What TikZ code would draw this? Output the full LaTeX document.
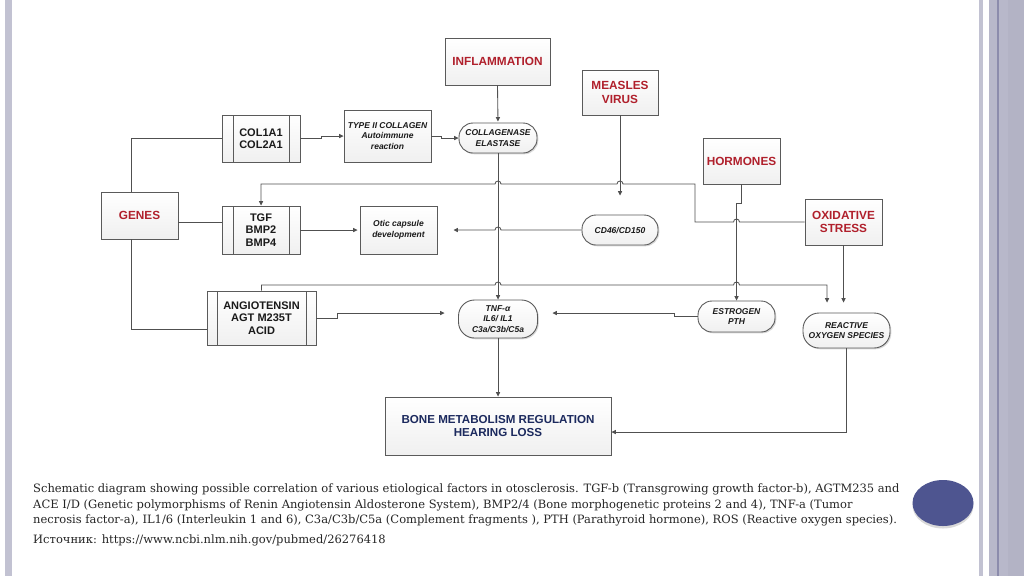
\documentclass[tikz,border=0pt]{standalone}
\usepackage{fontspec}
\newfontfamily\dsf{Liberation Sans}
\newfontfamily\capfont{DejaVu Serif}
\usetikzlibrary{arrows.meta,shadows,calc}
\definecolor{ln}{HTML}{505050}
\definecolor{bx}{HTML}{5A5A5A}
\definecolor{redt}{HTML}{B0202C}
\definecolor{navyt}{HTML}{1C2A5E}
\definecolor{txt}{HTML}{1A1A1A}
\definecolor{barl}{HTML}{C2C2D2}
\definecolor{barm}{HTML}{B8B8CA}
\definecolor{bard}{HTML}{8C8CAC}
\definecolor{barr}{HTML}{B3B3C5}
\definecolor{ovalc}{HTML}{4E5590}
\begin{document}
\begin{tikzpicture}[x=1pt,y=-1pt,
  base/.style={draw=bx, line width=0.9pt, top color=white, bottom color=black!6, align=center, inner sep=0pt, text=txt,
    drop shadow={shadow xshift=1.3pt, shadow yshift=-1.3pt, opacity=0.3}},
  redbox/.style={base, text=redt, font=\dsf\bfseries\fontsize{11.8}{13.6}\selectfont},
  genbox/.style={base, font=\dsf\bfseries\fontsize{11}{12.5}\selectfont},
  itbox/.style={base, font=\dsf\bfseries\itshape\fontsize{8.5}{10.6}\selectfont},
  stad/.style={base, rounded corners=14pt, font=\dsf\bfseries\itshape\fontsize{8.5}{10.6}\selectfont},
  proc/.style={genbox, path picture={
    \draw[bx, line width=0.8pt] ([xshift=#1]path picture bounding box.north west) -- ([xshift=#1]path picture bounding box.south west);
    \draw[bx, line width=0.8pt] ([xshift=-#1]path picture bounding box.north east) -- ([xshift=-#1]path picture bounding box.south east);}},
  conn/.style={draw=ln, line width=0.85pt},
  arr/.style={conn, -{Triangle[length=4.5pt,width=4.2pt]}},
  captxt/.style={anchor=base west, inner sep=0pt, text=black!85, font=\capfont\fontsize{11.5}{15}\selectfont}
]
\path[use as bounding box, fill=white] (0,0) rectangle (1024,576);
% slide decorations
\fill[barl] (5,0) rectangle (11.5,576);
\fill[barl] (979,0) rectangle (983,576);
\fill[barm] (989,0) rectangle (1024,576);
\fill[barr] (1008,0) rectangle (1024,576);
\fill[bard] (997,0) rectangle (999,576);
\fill[black, opacity=0.15] (943,505.5) ellipse [x radius=30.5, y radius=23];
\fill[ovalc] (943,503) ellipse [x radius=30.5, y radius=23];

% nodes
\node[redbox, minimum width=105, minimum height=47] (inflam) at (497.5,61.5) {INFLAMMATION};
\node[redbox, minimum width=76, minimum height=45] (measles) at (620,92.5) {MEASLES\\VIRUS};
\node[redbox, minimum width=77, minimum height=46] (horm) at (741.5,161) {HORMONES};
\node[redbox, minimum width=77, minimum height=46] (oxid) at (843.5,222) {OXIDATIVE\\STRESS};
\node[redbox, minimum width=77, minimum height=47] (genes) at (139.5,215.5) {GENES};
\node[proc=11pt, minimum width=78, minimum height=47] (col) at (261,138.5) {COL1A1\\COL2A1};
\node[itbox, minimum width=87, minimum height=52] (type2) at (387.5,136) {TYPE II COLLAGEN\\Autoimmune\\reaction};
\node[proc=11pt, minimum width=78, minimum height=48] (tgf) at (261,230) {TGF\\BMP2\\BMP4};
\node[itbox, minimum width=77, minimum height=48] (otic) at (398.5,230) {Otic capsule\\development};
\node[stad, minimum width=78, minimum height=30] (colla) at (498,138) {COLLAGENASE\\ELASTASE};
\node[stad, minimum width=76, minimum height=30] (cd46) at (620,230) {CD46/CD150};
\node[proc=10pt, minimum width=109, minimum height=54] (angio) at (261.5,318) {ANGIOTENSIN\\AGT M235T\\ACID};
\node[stad, minimum width=79, minimum height=38, rounded corners=16pt] (tnf) at (498,319) {TNF-α\\IL6/ IL1\\C3a/C3b/C5a};
\node[stad, minimum width=77, minimum height=31] (estr) at (736.5,316.5) {ESTROGEN\\PTH};
\node[stad, minimum width=87, minimum height=35, rounded corners=16pt] (ros) at (846.5,330.5) {REACTIVE\\OXYGEN SPECIES};
\node[base, minimum width=226, minimum height=58, text=navyt, font=\dsf\bfseries\fontsize{11.6}{13.6}\selectfont] (bone) at (498,426) {BONE METABOLISM REGULATION\\HEARING LOSS};

% connectors
\draw[conn] ([xshift=-8.5pt]genes.north) |- (col.west);
\draw[conn] ([yshift=-6.5pt]genes.east) -- ([yshift=-6.5pt]genes.east -| tgf.west);
\draw[conn] ([xshift=-8.5pt]genes.south) |- ([yshift=-11pt]angio.west);
\draw[arr] (col.east) -- ++(21,0) -- ++(0,-2.5) -- (type2.west);
\draw[arr] (type2.east) -- ++(10,0) -- ++(0,2) -- (colla.west);
\draw[arr, shorten >=1pt] (inflam.south) -- (colla.north);
\draw[arr] (colla.south) -- (tnf.north);
\draw[arr, shorten >=19pt] (measles.south) -- (cd46.north);
\draw[arr] (oxid.west) -- (739.5,222) arc[start angle=0, end angle=-180, radius=3] -- (695,222) -- (695,184)
  -- (623,184) arc[start angle=0, end angle=-180, radius=3]
  -- (501,184) arc[start angle=0, end angle=-180, radius=3]
  -- (261,184) -- (tgf.north);
\draw[arr] (horm.south) -- ++(0,19) -| (estr.north);
\draw[arr, shorten >=10pt] (oxid.south) -- (oxid.south |- ros.north);
\draw[arr, shorten >=10pt] (angio.north) -- (261.5,285)
  -- (495,285) arc[start angle=180, end angle=360, radius=3]
  -- (733.5,285) arc[start angle=180, end angle=360, radius=3]
  -- (827,285) -- ([xshift=-19.5pt]ros.north);
\draw[arr, shorten >=2pt] (tgf.east) -- (otic.west);
\draw[arr, shorten >=16pt] (cd46.west) -- (501,230) arc[start angle=0, end angle=-180, radius=3] -- (otic.east);
\draw[arr, shorten >=13.5pt] (angio.east) -- ++(21,0) -- ++(0,-5) -- ([yshift=6pt]tnf.west);
\draw[arr, shorten >=14.5pt] (estr.west) -- ++(-23,0) -- ++(0,-3.5) -- ([yshift=6pt]tnf.east);
\draw[arr] (tnf.south) -- (bone.north);
\draw[arr] (ros.south) |- ([yshift=-6pt]bone.east);

% caption
\node[captxt] (c1) at (33,492.5) {Schematic diagram showing possible correlation of various etiological factors in otosclerosis. TGF-b (Transgrowing growth factor-b), AGTM235 and};
\node[captxt] (c2) at (33,508) {ACE I/D (Genetic polymorphisms of Renin Angiotensin Aldosterone System), BMP2/4 (Bone morphogenetic proteins 2 and 4), TNF-a (Tumor};
\node[captxt] (c3) at (33,523.5) {necrosis factor-a), IL1/6 (Interleukin 1 and 6), C3a/C3b/C5a (Complement fragments ), PTH (Parathyroid hormone), ROS (Reactive oxygen species).};
\node[captxt] (c4) at (33,543.5) {Источник: https://www.ncbi.nlm.nih.gov/pubmed/26276418};
\end{tikzpicture}
\end{document}
